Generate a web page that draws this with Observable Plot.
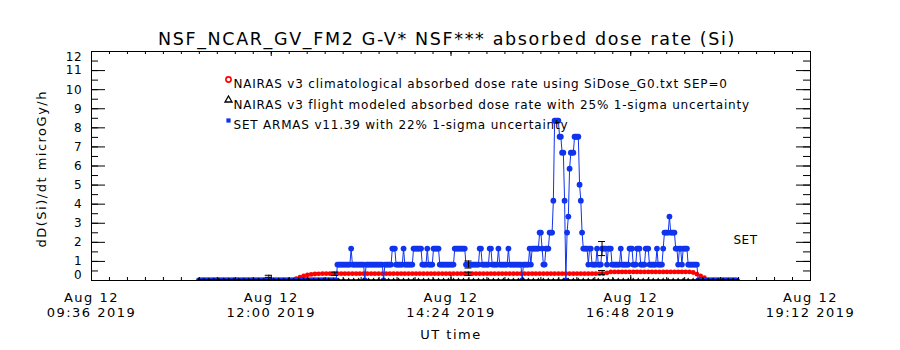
<!DOCTYPE html>
<html>
<head>
<meta charset="utf-8">
<script src="https://cdn.jsdelivr.net/npm/d3@7"></script>
<script src="https://cdn.jsdelivr.net/npm/@observablehq/plot@0.6"></script>
<style>
  html, body { margin: 0; padding: 0; background: #fff; }
  svg text { font-family: "DejaVu Sans", sans-serif; }
</style>
</head>
<body>
<div id="chart"></div>
<script>
// ---------------- text ----------------
const titleText = "NSF_NCAR_GV_FM2 G-V* NSF*** absorbed dose rate (Si)";
const yTitle = "dD(Si)/dt microGy/h";
const xTitle = "UT time";
const legendLabels = [
  "NAIRAS v3 climatological absorbed dose rate using SiDose_G0.txt SEP=0",
  "NAIRAS v3 flight modeled absorbed dose rate with 25% 1-sigma uncertainty",
  "SET ARMAS v11.39 with 22% 1-sigma uncertainty"
];
const setLabel = "SET";

// ---------------- axes ----------------
const xDomain = ["2019-08-12T09:36Z", "2019-08-12T19:12Z"];
const xTickTimes = ["2019-08-12T09:36Z", "2019-08-12T12:00Z", "2019-08-12T14:24Z", "2019-08-12T16:48Z", "2019-08-12T19:12Z"];
const xTickLabels = ["Aug 12\n09:36 2019", "Aug 12\n12:00 2019", "Aug 12\n14:24 2019", "Aug 12\n16:48 2019", "Aug 12\n19:12 2019"];
const xMinorPerMajor = 10;
const yDomain = [0, 12];
const yTickValues = [0, 1, 2, 3, 4, 5, 6, 7, 8, 9, 10, 11, 12];
const yMinorPerMajor = 2;

// ---------------- SET ARMAS (1-minute samples, in counts of one dose quantum) ----------------
const setStart = "2019-08-12T11:02Z";
const setStepMinutes = 1;
const setQuantum = 0.837; // microGy/h per count
const setCounts = [
  0,0,0,0,0,0,0,0,0,0, 0,0,0,0,0,0,0,0,0,0, 0,0,0,0,0,0,0,0,0,0, 0,0,0,0,0,0,0,0,0,0,
  0,0,0,0,0,0,0,0,0,0, 0,0,0,0,0,0,0,0,0,0, 0,0,0,0,0,0,0,0,0,0, 0,0,0,0,0,0,0,0,0,0,
  0,0,0,0,0,0,0,0,0,0, 0,0,0,0,0,0,0,0,0,0, 0,0,0,0,0,0,0,0,0,0, 0,
  1,1,1,1,1,1,1,1,1,1,1, 2, 1,1,1,1,1,1,1,1,1,1, 0,
  1,1,1,1,1,1,1,1,1,1,1,1,1,1, 0, 1,1,1,1,1,1, 2,2,2, 1,1,1,1,1,1, 2,
  1,1,1,1,1,1,1, 2,2,2,2,2,2,2, 1,1,1,1, 2, 1,1,1,1, 2,2,2,2,2,
  1,1,1,1,1,1,1,1,1,1,1,1, 2,2,2,2,2,2,2,2,2, 1,1,1,1,1,1,1,1,1,1,1,
  2,2, 1,1,1,1,1,1, 2,2, 1,1,1,1,1, 2, 1,1,1,1,1,1,1, 2, 1,1,1,1,1,1,1,1,1,1, 0,
  1,1,1,1,1, 2,1, 2,2,2,2,2,2,
  3,3,2,1,1,2,2,2,3,3,3,5,
  10,10,10,10,9,9,8,8,5,0,3,4,7,8,8,8,9,9,9,9,6,5,3,
  2,2,2,2,1,2,2,1,1,1,1,2,1,1,1,2,2,2,2,1,2,2,2,
  1,1,1,1,1,1,1, 2, 1,1,1,1,1,1,
  2,2,2,1,1,1,2,2,2,1,1,1,1,2,2,2,
  1,1,1,1,1,1,
  2,1,1,1,1,2,3,3,3,3,4,3,3,3,3,2,2,1,2,2,1,2,2,2,2,
  1,1,1,1,1,1,1,1,
  0,0,0,0,0,0,0,0,0,0, 0,0,0,0,0,0,0,0,0,0, 0,0,0,0,0,0,0,0,0,0, 0,0
];

// ---------------- NAIRAS climatological (3-minute samples) ----------------
const climStart = "2019-08-12T12:20Z";
const climStepMinutes = 3;
const climValues = [
  0.10,0.17,0.24,0.29,0.32,0.34,0.35,
  0.36,0.36,0.36,0.36,0.36,0.36,0.36,0.36,0.36,0.36, 0.36,0.36,0.36,0.36,0.36,0.36,0.36,0.36,0.36,0.36,
  0.36,0.36,0.36,0.36,0.36,0.36,0.36,0.36,0.36,0.36, 0.36,0.36,0.36,0.36,0.36,0.36,0.36,0.36,0.36,0.36,
  0.36,0.36,0.36,0.36,0.36,0.36,0.36,0.36,0.36,0.36, 0.36,0.36,0.36,0.36,0.36,0.36,0.36,0.36,0.36,0.36,
  0.36,0.36,0.36,0.36,0.36,0.36,0.36,0.36,0.36,0.36, 0.36,0.36,0.36,0.36,0.36,0.36,
  0.40,
  0.45,0.45,0.45,0.45,0.45,0.45,0.45,0.45,0.45,0.45, 0.45,0.45,0.45,0.45,0.45,0.45,0.45,0.45,0.45,0.45, 0.45,0.45,
  0.42,0.33,0.24,0.15
];

// ---------------- NAIRAS flight modeled (4-minute samples) ----------------
const flightStart = "2019-08-12T11:02Z";
const flightStepMinutes = 4;
const flightValues = [
  0,0,0,0,0,0,0,0,0,0, 0,0,0,0,0,0,0,0,0,0, 0,0,0,0,0,0,0,0,0,0, 0,0,0,0,0,0,0,0,0,0,
  0,0,0,0,0,0,0,0,0,0, 0,0,0,0,0,0,0,0,0,0, 0,0,0,0,0,0,0,0,0,0, 0,0,0,0,0,0,0,0,0,0,
  0,0,0,0,0,0,0,0,0,0, 0,0,0,0,0,0,0,0,0,0, 0,0,0,0,0,0,0,0,0
];

// ---------------- uncertainty bars ----------------
const flightErrTimes = ["2019-08-12T11:58Z", "2019-08-12T12:51Z", "2019-08-12T14:38Z", "2019-08-12T16:25Z"];
const flightErrValues = [0.22, 0.35, 0.35, 0.42];
const flightSigma = 0.25;
const setErrTimes = ["2019-08-12T14:38Z", "2019-08-12T16:25Z"];
const setErrValues = [0.837, 1.674];
const setSigma = 0.22;

// ---------------- build ----------------
const W = 900, H = 350;
const mL = 91, mR = 90, mT = 51, mB = 70;
const frameW = W - mL - mR, frameH = H - mT - mB;
const MIN = 60000;
const blue = "#1034ee";
const red = "#ff0000";

const series = (start, step, vals, f = v => v) =>
  vals.map((v, i) => ({t: new Date(Date.parse(start) + i * step * MIN), v: f(v)}));
const setData = series(setStart, setStepMinutes, setCounts, k => k * setQuantum);
const climData = series(climStart, climStepMinutes, climValues);
const flightData = series(flightStart, flightStepMinutes, flightValues);
const flightErr = flightErrTimes.map((t, i) => ({t: new Date(t), lo: flightErrValues[i] * (1 - flightSigma), hi: flightErrValues[i] * (1 + flightSigma)}));
const setErr = setErrTimes.map((t, i) => ({t: new Date(t), lo: setErrValues[i] * (1 - setSigma), hi: setErrValues[i] * (1 + setSigma)}));
const errAll = flightErr.concat(setErr);

const xMajor = xTickTimes.map(d => new Date(d));
const majorStep = xMajor[1] - xMajor[0];
const xMinor = d3.range((xMajor.length - 1) * xMinorPerMajor + 1).map(k => new Date(+xMajor[0] + k * majorStep / xMinorPerMajor));
const yMinor = d3.range((yTickValues.length - 1) * yMinorPerMajor + 1).map(k => yTickValues[0] + k / yMinorPerMajor);

const xMajLen = 5, xMinLen = 3, yMajLen = 14, yMinLen = 7;

const marks = [
  // data
  Plot.dot(climData, {x: "t", y: "v", r: 2.4, fill: red, clip: true}),
  Plot.line(setData, {x: "t", y: "v", stroke: blue, strokeWidth: 1, clip: true}),
  Plot.dot(setData, {x: "t", y: "v", r: 2.9, fill: blue, clip: true}),
  Plot.line(flightData, {x: "t", y: "v", stroke: "black", strokeWidth: 2.5, clip: true}),
  Plot.dot(flightData, {x: "t", y: "v", symbol: "triangle", r: 2, fill: "black", clip: true}),
  // uncertainty bars
  Plot.ruleX(errAll, {x: "t", y1: "lo", y2: "hi", stroke: "black", strokeWidth: 1}),
  Plot.ruleY(errAll, {y: "lo", x1: "t", x2: "t", insetLeft: -3.5, insetRight: -3.5, stroke: "black"}),
  Plot.ruleY(errAll, {y: "hi", x1: "t", x2: "t", insetLeft: -3.5, insetRight: -3.5, stroke: "black"}),
  // frame and ticks
  Plot.frame({stroke: "black"}),
  Plot.ruleX(xMinor, {x: d => d, insetTop: frameH - xMinLen, stroke: "black"}),
  Plot.ruleX(xMinor, {x: d => d, insetBottom: frameH - xMinLen, stroke: "black"}),
  Plot.ruleX(xMajor, {x: d => d, insetTop: frameH - xMajLen, stroke: "black"}),
  Plot.ruleX(xMajor, {x: d => d, insetBottom: frameH - xMajLen, stroke: "black"}),
  Plot.ruleY(yMinor, {y: d => d, insetRight: frameW - yMinLen, stroke: "black"}),
  Plot.ruleY(yMinor, {y: d => d, insetLeft: frameW - yMinLen, stroke: "black"}),
  Plot.ruleY(yTickValues, {y: d => d, insetRight: frameW - yMajLen, stroke: "black"}),
  Plot.ruleY(yTickValues, {y: d => d, insetLeft: frameW - yMajLen, stroke: "black"}),
  // tick labels
  Plot.text(yTickValues.slice(1, -1), {y: d => d, frameAnchor: "left", dx: -9, textAnchor: "end", text: d => String(d), fontSize: 12, fill: "black"}),
  Plot.text(yTickValues.slice(-1), {y: d => d, frameAnchor: "left", dx: -9, dy: 5.5, textAnchor: "end", text: d => String(d), fontSize: 12, fill: "black"}),
  Plot.text(yTickValues.slice(0, 1), {y: d => d, frameAnchor: "left", dx: -9, dy: -5, textAnchor: "end", text: d => String(d), fontSize: 12, fill: "black"}),
  Plot.text(xMajor, {x: d => d, frameAnchor: "bottom", dy: 24.5, text: (d, i) => xTickLabels[i], lineHeight: 15 / 13, lineAnchor: "middle", fontSize: 13, fill: "black"}),
  // titles
  Plot.text([xTitle], {frameAnchor: "bottom", dy: 58, fontSize: 13, fill: "black"}),
  Plot.text([yTitle], {frameAnchor: "bottom-left", dx: -46, dy: -33, rotate: -90, textAnchor: "start", fontSize: 13, fill: "black"}),
  Plot.text([titleText], {frameAnchor: "top", dx: -4, dy: -19, fontSize: 17.5, fill: "black"}),
  Plot.text([setLabel], {frameAnchor: "top-left", dx: 642, dy: 184, textAnchor: "start", fontSize: 12, fill: "black"}),
  // legend
  ...legendLabels.map((s, i) => Plot.text([s], {frameAnchor: "top-left", dx: 142, dy: 28 + 20.5 * i, textAnchor: "start", fontSize: 12, fill: "black"})),
  Plot.dot([0], {frameAnchor: "top-left", dx: 137, dy: 28, symbol: "circle", r: 2.6, fill: "white", stroke: red, strokeWidth: 1.6}),
  Plot.dot([0], {frameAnchor: "top-left", dx: 137, dy: 48.5, symbol: "triangle", r: 2.6, fill: "white", stroke: "black", strokeWidth: 1.3}),
  Plot.dot([0], {frameAnchor: "top-left", dx: 137, dy: 69, symbol: "square", r: 2.4, fill: blue})
];

const chart = Plot.plot({
  width: W, height: H,
  marginLeft: mL, marginRight: mR, marginTop: mT, marginBottom: mB,
  x: {type: "utc", domain: xDomain.map(d => new Date(d)), axis: null},
  y: {domain: yDomain, axis: null},
  style: {background: "white", fontFamily: "DejaVu Sans", overflow: "visible"},
  marks
});

// letter spacing per text group (wide stroke-font look of the original)
const spacing = new Map();
spacing.set(titleText, 1.65);
legendLabels.forEach(s => spacing.set(s, 0.8));
[xTitle, yTitle].forEach(s => spacing.set(s, 1.5));
xTickLabels.forEach(s => spacing.set(s.replace("\n", ""), 1.5));
yTickValues.forEach(v => spacing.set(String(v), 0.8));
spacing.set(setLabel, 0.5);
d3.select(chart).selectAll("text").each(function () {
  const s = spacing.get(this.textContent);
  if (s !== undefined) this.style.letterSpacing = s + "px";
});

document.getElementById("chart").appendChild(chart);
</script>
</body>
</html>
